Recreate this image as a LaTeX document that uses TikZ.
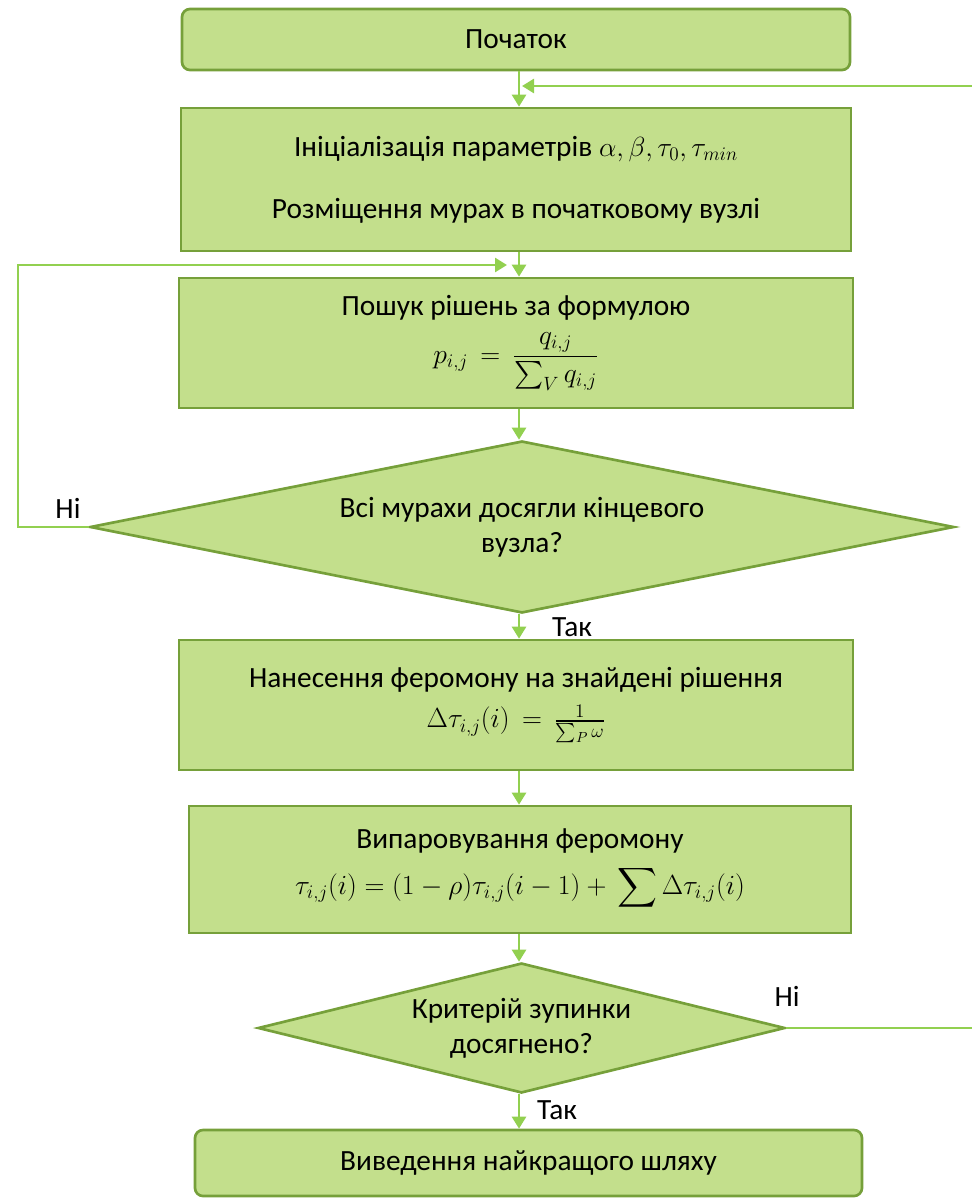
\documentclass[tikz,border=0pt]{standalone}
\usepackage{amsmath}
\usepackage{fontspec}
\setmainfont{Carlito}
\usetikzlibrary{shapes.geometric,arrows.meta,calc}
\definecolor{boxfill}{HTML}{C3DF8C}
\definecolor{boxline}{HTML}{76A03A}
\definecolor{arrowc}{HTML}{92D050}
\begin{document}
\begin{tikzpicture}[x=0.75pt,y=-0.75pt,
  every node/.style={font=\fontsize{22}{26.5}\selectfont},
  procbox/.style={draw=boxline, fill=boxfill, line width=2pt, rectangle, align=center, inner sep=0pt},
  termbox/.style={procbox, rounded corners=6pt},
  decbox/.style={draw=boxline, fill=boxfill, line width=2pt, diamond, align=center, inner sep=0pt},
  conn/.style={draw=arrowc, line width=2pt, -{Triangle[length=9pt,width=10.5pt]}},
  lbl/.style={inner sep=0pt}
]
\useasboundingbox (0,0) rectangle (971,1198);
\coordinate (ax) at (519,0);
\node[termbox, minimum width=501pt, minimum height=45.75pt] (start) at (516,39.5) {Початок};
\node[procbox, minimum width=502.5pt, minimum height=107.25pt] (init) at (516,179.5)
  {Ініціалізація параметрів $\alpha,\beta,\tau_0,\tau_{min}$\\[20pt]Розміщення мурах в початковому вузлі};
\node[procbox, minimum width=505.5pt, minimum height=97.5pt] (search) at (516,343)
  {Пошук рішень за формулою\\[8pt]$p_{i,j}\,=\,\dfrac{q_{i,j}}{\textstyle\sum_V q_{i,j}}$};
\node[decbox, aspect=5, minimum width=648pt, minimum height=129pt] (d1) at (522,527)
  {Всі мурахи досягли кінцевого\\вузла?};
\node[procbox, minimum width=505.5pt, minimum height=97.5pt] (dep) at (516,705)
  {Нанесення феромону на знайдені рішення\\[4pt]$\Delta\tau_{i,j}(i)\,=\,\frac{1}{\sum_P \omega}$};
\node[procbox, minimum width=496.5pt, minimum height=95.25pt] (evap) at (520,869.5)
  {Випаровування феромону\\[8pt]$\tau_{i,j}(i)=(1-\rho)\tau_{i,j}(i-1)+\,\displaystyle\sum\Delta\tau_{i,j}(i)$};
\node[decbox, aspect=4, minimum width=395.25pt, minimum height=97.5pt] (d2) at (521.5,1028)
  {Критерій зупинки\\досягнено?};
\node[termbox, minimum width=500.25pt, minimum height=49.5pt] (fin) at (528.5,1163) {Виведення найкращого шляху};

\node[lbl] (n1) at (68,508) {Ні};
\node[lbl] (y1) at (572,627) {Так};
\node[lbl] (n2) at (787,996) {Ні};
\node[lbl] (y2) at (557,1110) {Так};

\draw[conn] (start.south -| ax) -- (init.north -| ax);
\draw[conn] (init.south -| ax) -- (search.north -| ax);
\draw[conn] (search.south -| ax) -- (d1.north -| ax);
\draw[conn] (d1.south -| ax) -- (dep.north -| ax);
\draw[conn] (dep.south -| ax) -- (evap.north -| ax);
\draw[conn] (evap.south -| ax) -- (d2.north -| ax);
\draw[conn] (d2.south -| ax) -- (fin.north -| ax);

\coordinate (j1) at (507,265);
\coordinate (l1) at (18,0);
\draw[conn] (d1.west) -- (d1.west -| l1) |- (j1);
\coordinate (j2) at (522,86);
\coordinate (r2) at (980,0);
\draw[conn] (d2.east) -- (d2.east -| r2) |- (j2);
\end{tikzpicture}
\end{document}
